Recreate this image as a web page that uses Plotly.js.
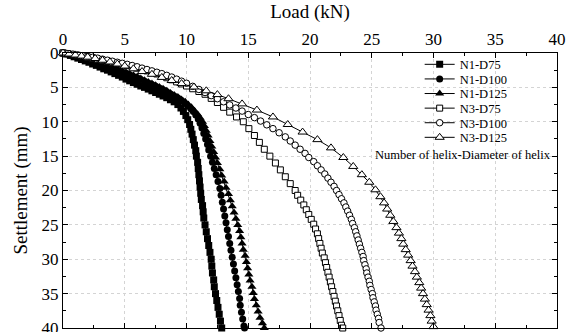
<!DOCTYPE html>
<html><head><meta charset="utf-8">
<script src="https://cdn.plot.ly/plotly-3.0.1.min.js"></script>
<style>html,body{margin:0;padding:0;background:#fff}#chart{width:572px;height:332px}</style>
</head><body><div id="chart"></div>
<script>
const seriesNames = ["N1-D75", "N1-D100", "N1-D125", "N3-D75", "N3-D100", "N3-D125"];
const xTitle = "Load (kN)";
const yTitle = "Settlement (mm)";
const noteText = "Number of helix-Diameter of helix";

const n1d75Load = [0,0.3,0.6,0.9,1.2,1.5,1.8,2.1,2.4,2.7,3.0,3.3,3.6,3.9,4.2,4.5,4.8,5.1,5.4,5.7,6.0,6.3,6.6,6.9,7.2,7.5,7.8,8.1,8.4,8.7,9.0,9.3,9.55,9.75,9.95,10.1,10.25,10.35,10.45,10.55,10.65,10.75,10.8,10.9,10.95,11.0,11.05,11.1,11.15,11.2,11.3,11.35,11.4,11.5,11.6,11.7,11.8,11.9,12.0,12.05,12.1,12.2,12.25,12.35,12.45,12.55,12.65,12.75,12.85];
const n1d75Settle = [0,0.15,0.35,0.55,0.75,0.95,1.15,1.35,1.6,1.8,2.05,2.3,2.5,2.75,3.0,3.25,3.5,3.8,4.05,4.3,4.55,4.8,5.0,5.25,5.5,5.75,6.0,6.25,6.5,6.8,7.1,7.5,8.0,8.5,9.1,9.7,10.4,11.1,11.8,12.6,13.4,14.2,15.0,15.9,16.8,17.7,18.6,19.5,20.4,21.3,22.2,23.1,24.0,25.0,26.0,27.0,28.0,29.0,30.0,31.0,32.0,33.0,34.0,35.0,36.0,37.0,38.0,39.0,40.0];

const n1d100Load = [0,0.3,0.6,0.9,1.2,1.5,1.8,2.1,2.4,2.7,3.0,3.3,3.6,3.9,4.2,4.5,4.8,5.1,5.4,5.7,6.0,6.3,6.6,6.9,7.2,7.5,7.8,8.1,8.4,8.7,9.0,9.3,9.6,9.85,10.1,10.35,10.55,10.75,10.95,11.1,11.25,11.4,11.55,11.7,11.8,11.95,12.1,12.25,12.4,12.55,12.7,12.8,12.9,13.0,13.1,13.2,13.3,13.4,13.5,13.6,13.7,13.8,13.9,14.0,14.1,14.2,14.3,14.35,14.45,14.55,14.65,14.7];
const n1d100Settle = [0,0.12,0.28,0.43,0.6,0.75,0.9,1.05,1.25,1.45,1.6,1.8,1.95,2.15,2.35,2.55,2.75,2.95,3.15,3.4,3.6,3.85,4.1,4.35,4.6,4.85,5.1,5.35,5.65,5.95,6.25,6.55,6.9,7.3,7.7,8.1,8.5,9.0,9.6,10.2,10.9,11.7,12.5,13.3,14.1,15.0,15.9,16.8,17.7,18.7,19.7,20.7,21.7,22.7,23.7,24.7,25.7,26.7,27.7,28.7,29.7,30.7,31.7,32.7,33.7,34.7,35.7,36.7,37.7,38.7,39.7,40.0];

const n1d125Load = [0,0.3,0.6,0.9,1.2,1.5,1.8,2.1,2.4,2.7,3.0,3.3,3.6,3.9,4.2,4.5,4.8,5.1,5.4,5.7,6.0,6.3,6.6,6.9,7.2,7.5,7.8,8.1,8.4,8.7,9.0,9.3,9.6,9.9,10.15,10.4,10.65,10.9,11.1,11.3,11.45,11.6,11.75,11.9,12.05,12.2,12.35,12.5,12.7,12.85,13.05,13.2,13.4,13.55,13.7,13.85,14.0,14.15,14.3,14.4,14.5,14.6,14.75,14.85,14.95,15.05,15.15,15.3,15.4,15.5,15.65,15.8,15.95,16.15,16.3];
const n1d125Settle = [0,0.1,0.25,0.4,0.55,0.7,0.85,1.0,1.15,1.35,1.5,1.7,1.85,2.05,2.25,2.45,2.65,2.85,3.05,3.25,3.45,3.7,3.95,4.2,4.45,4.7,4.95,5.2,5.5,5.8,6.1,6.4,6.75,7.1,7.5,7.9,8.4,8.9,9.4,10.0,10.6,11.3,12.0,12.8,13.6,14.4,15.2,16.0,16.9,17.8,18.7,19.6,20.5,21.4,22.3,23.2,24.1,25.0,25.9,26.8,27.7,28.6,29.5,30.4,31.3,32.2,33.1,34.0,34.9,35.8,36.7,37.6,38.5,39.3,40.0];

const n3d75Load = [0,0.4,0.8,1.2,1.6,2.0,2.4,2.8,3.2,3.6,4.0,4.4,4.8,5.2,5.6,6.0,6.4,6.8,7.2,7.6,8.0,8.4,8.8,9.2,9.6,10.0,10.5,11.0,11.5,12.0,12.5,13.0,13.5,14.05,14.6,15.05,15.5,15.9,16.3,16.75,17.2,17.6,18.0,18.4,18.8,19.0,19.25,19.5,19.7,19.9,20.1,20.3,20.45,20.6,20.7,20.8,20.9,21.0,21.15,21.25,21.35,21.45,21.55,21.65,21.75,21.85,21.95,22.05,22.15,22.25,22.35,22.45,22.55,22.65];
const n3d75Settle = [0,0.1,0.2,0.35,0.5,0.6,0.75,0.9,1.05,1.2,1.35,1.5,1.7,1.85,2.0,2.2,2.4,2.6,2.8,3.05,3.3,3.6,3.9,4.2,4.5,4.8,5.2,5.6,6.0,6.6,7.2,7.9,8.6,9.3,10.0,11.0,12.0,13.0,14.0,15.0,16.0,17.0,18.0,19.0,20.0,20.7,21.4,22.1,22.8,23.5,24.2,24.9,25.6,26.3,27.0,27.7,28.4,29.1,29.8,30.5,31.2,31.9,32.6,33.3,34.0,34.7,35.4,36.1,36.8,37.5,38.2,38.9,39.6,40.0];

const n3d100Load = [0,0.4,0.8,1.2,1.6,2.0,2.4,2.8,3.2,3.6,4.0,4.4,4.8,5.2,5.6,6.0,6.4,6.8,7.2,7.6,8.0,8.4,8.8,9.2,9.6,10.0,10.5,11.0,11.5,12.0,12.5,13.0,13.5,14.0,14.5,15.0,15.5,16.0,16.5,17.0,17.5,18.0,18.4,18.8,19.2,19.6,19.9,20.3,20.6,20.9,21.2,21.45,21.7,21.95,22.15,22.35,22.55,22.75,22.9,23.05,23.2,23.35,23.45,23.6,23.7,23.8,23.9,24.0,24.1,24.2,24.3,24.35,24.45,24.55,24.6,24.7,24.8,24.85,24.95,25.05,25.1,25.2,25.3,25.35,25.45,25.55,25.6,25.75];
const n3d100Settle = [0,0.08,0.18,0.28,0.4,0.5,0.62,0.75,0.9,1.05,1.2,1.35,1.5,1.65,1.82,2.0,2.2,2.4,2.6,2.8,3.0,3.25,3.5,3.8,4.1,4.4,4.85,5.3,5.75,6.2,6.65,7.1,7.55,8.0,8.45,8.95,9.4,9.9,10.45,11.0,11.6,12.2,12.8,13.4,14.0,14.6,15.2,15.8,16.4,17.0,17.6,18.2,18.8,19.4,20.0,20.6,21.2,21.8,22.4,23.0,23.6,24.2,24.8,25.4,26.0,26.6,27.2,27.8,28.4,29.0,29.6,30.2,30.8,31.4,32.0,32.6,33.2,33.8,34.4,35.0,35.6,36.2,36.8,37.4,38.0,38.6,39.2,40.0];

const n3d125Load = [0,0.5,1.0,1.5,2.0,2.6,3.2,3.8,4.4,5.0,5.7,6.4,7.2,8.0,8.8,9.6,10.6,11.6,12.5,13.4,14.5,15.7,17.0,18.2,19.4,20.6,21.7,22.7,23.5,24.2,24.8,25.3,25.7,26.0,26.25,26.5,26.75,27.0,27.2,27.4,27.55,27.75,27.95,28.15,28.3,28.5,28.65,28.85,29.0,29.15,29.3,29.45,29.6,29.75,29.85,30.0];
const n3d125Settle = [0,0.15,0.3,0.45,0.6,0.8,1.05,1.3,1.6,1.9,2.3,2.7,3.1,3.55,4.0,4.45,4.95,5.5,6.05,6.65,7.4,8.3,9.3,10.4,11.5,12.6,13.8,15.2,16.5,17.7,18.8,19.9,20.9,21.8,22.7,23.6,24.5,25.4,26.2,27.0,27.8,28.6,29.4,30.2,31.0,31.8,32.6,33.4,34.2,35.0,35.8,36.6,37.4,38.2,39.0,39.8];

const loads = [n1d75Load, n1d100Load, n1d125Load, n3d75Load, n3d100Load, n3d125Load];
const settles = [n1d75Settle, n1d100Settle, n1d125Settle, n3d75Settle, n3d100Settle, n3d125Settle];
const symbols = ["square", "circle", "triangle-up", "square", "circle", "triangle-up"];
const sizes = [7, 7, 8, 6, 6.5, 8];
const fills = ["#000", "#000", "#000", "#fff", "#fff", "#fff"];

const FONT = "Liberation Serif";

const traces = seriesNames.map((name, i) => ({
  type: "scatter",
  mode: "lines+markers",
  name: name,
  x: loads[i],
  y: settles[i],
  line: {color: "#000", width: 1},
  marker: {symbol: symbols[i], size: sizes[i], color: fills[i],
           line: {color: "#000", width: i < 3 ? 0 : 1}},
  cliponaxis: false
}));

function axisBase() {
  return {
    showline: true, linecolor: "#000", linewidth: 1.2, mirror: "ticks",
    ticks: "inside", ticklen: 5, tickwidth: 1, tickcolor: "#000",
    showgrid: true, gridcolor: "#d4d4d4", griddash: "dot", gridwidth: 1,
    zeroline: false, dtick: 5, tick0: 0, ticklabeloverflow: "allow",
    minor: {ticks: "inside", ticklen: 3, tickcolor: "#000", dtick: 2.5, showgrid: false},
    tickfont: {family: FONT, size: 17, color: "#000"}
  };
}

const layout = {
  width: 572, height: 332,
  margin: {l: 63, r: 15, t: 53, b: 4},
  paper_bgcolor: "#fff", plot_bgcolor: "#fff",
  font: {family: FONT, size: 16, color: "#000"},
  showlegend: true,
  xaxis: Object.assign(axisBase(), {
    side: "top", range: [0, 40],
    title: {text: xTitle, font: {family: FONT, size: 19, color: "#000"}, standoff: 6}
  }),
  yaxis: Object.assign(axisBase(), {
    range: [40, 0],
    title: {text: yTitle, font: {family: FONT, size: 19, color: "#000"}, standoff: 8}
  }),
  legend: {
    x: 0.722, y: 1.012, xanchor: "left", yanchor: "top",
    bgcolor: "rgba(0,0,0,0)", borderwidth: 0,
    font: {family: FONT, size: 12.5, color: "#000"}
  },
  annotations: [{
    text: noteText, xref: "paper", yref: "paper", x: 0.81, y: 0.63,
    xanchor: "center", yanchor: "middle", showarrow: false,
    font: {family: FONT, size: 12.5, color: "#000"}
  }]
};

Plotly.newPlot("chart", traces, layout, {displayModeBar: false, staticPlot: true}).then(gd => {
  const items = gd.querySelectorAll(".legend .traces");
  if (!items.length) return;
  const m0 = /translate\(([-\d.]+),\s*([-\d.]+)\)/.exec(items[0].getAttribute("transform") || "");
  if (!m0) return;
  const y0 = parseFloat(m0[2]);
  items.forEach((el, i) => {
    const m = /translate\(([-\d.]+),\s*([-\d.]+)\)/.exec(el.getAttribute("transform") || "");
    if (m) el.setAttribute("transform", "translate(" + m[1] + "," + (y0 + i * 14.6) + ")");
  });
});
</script>
</body></html>
